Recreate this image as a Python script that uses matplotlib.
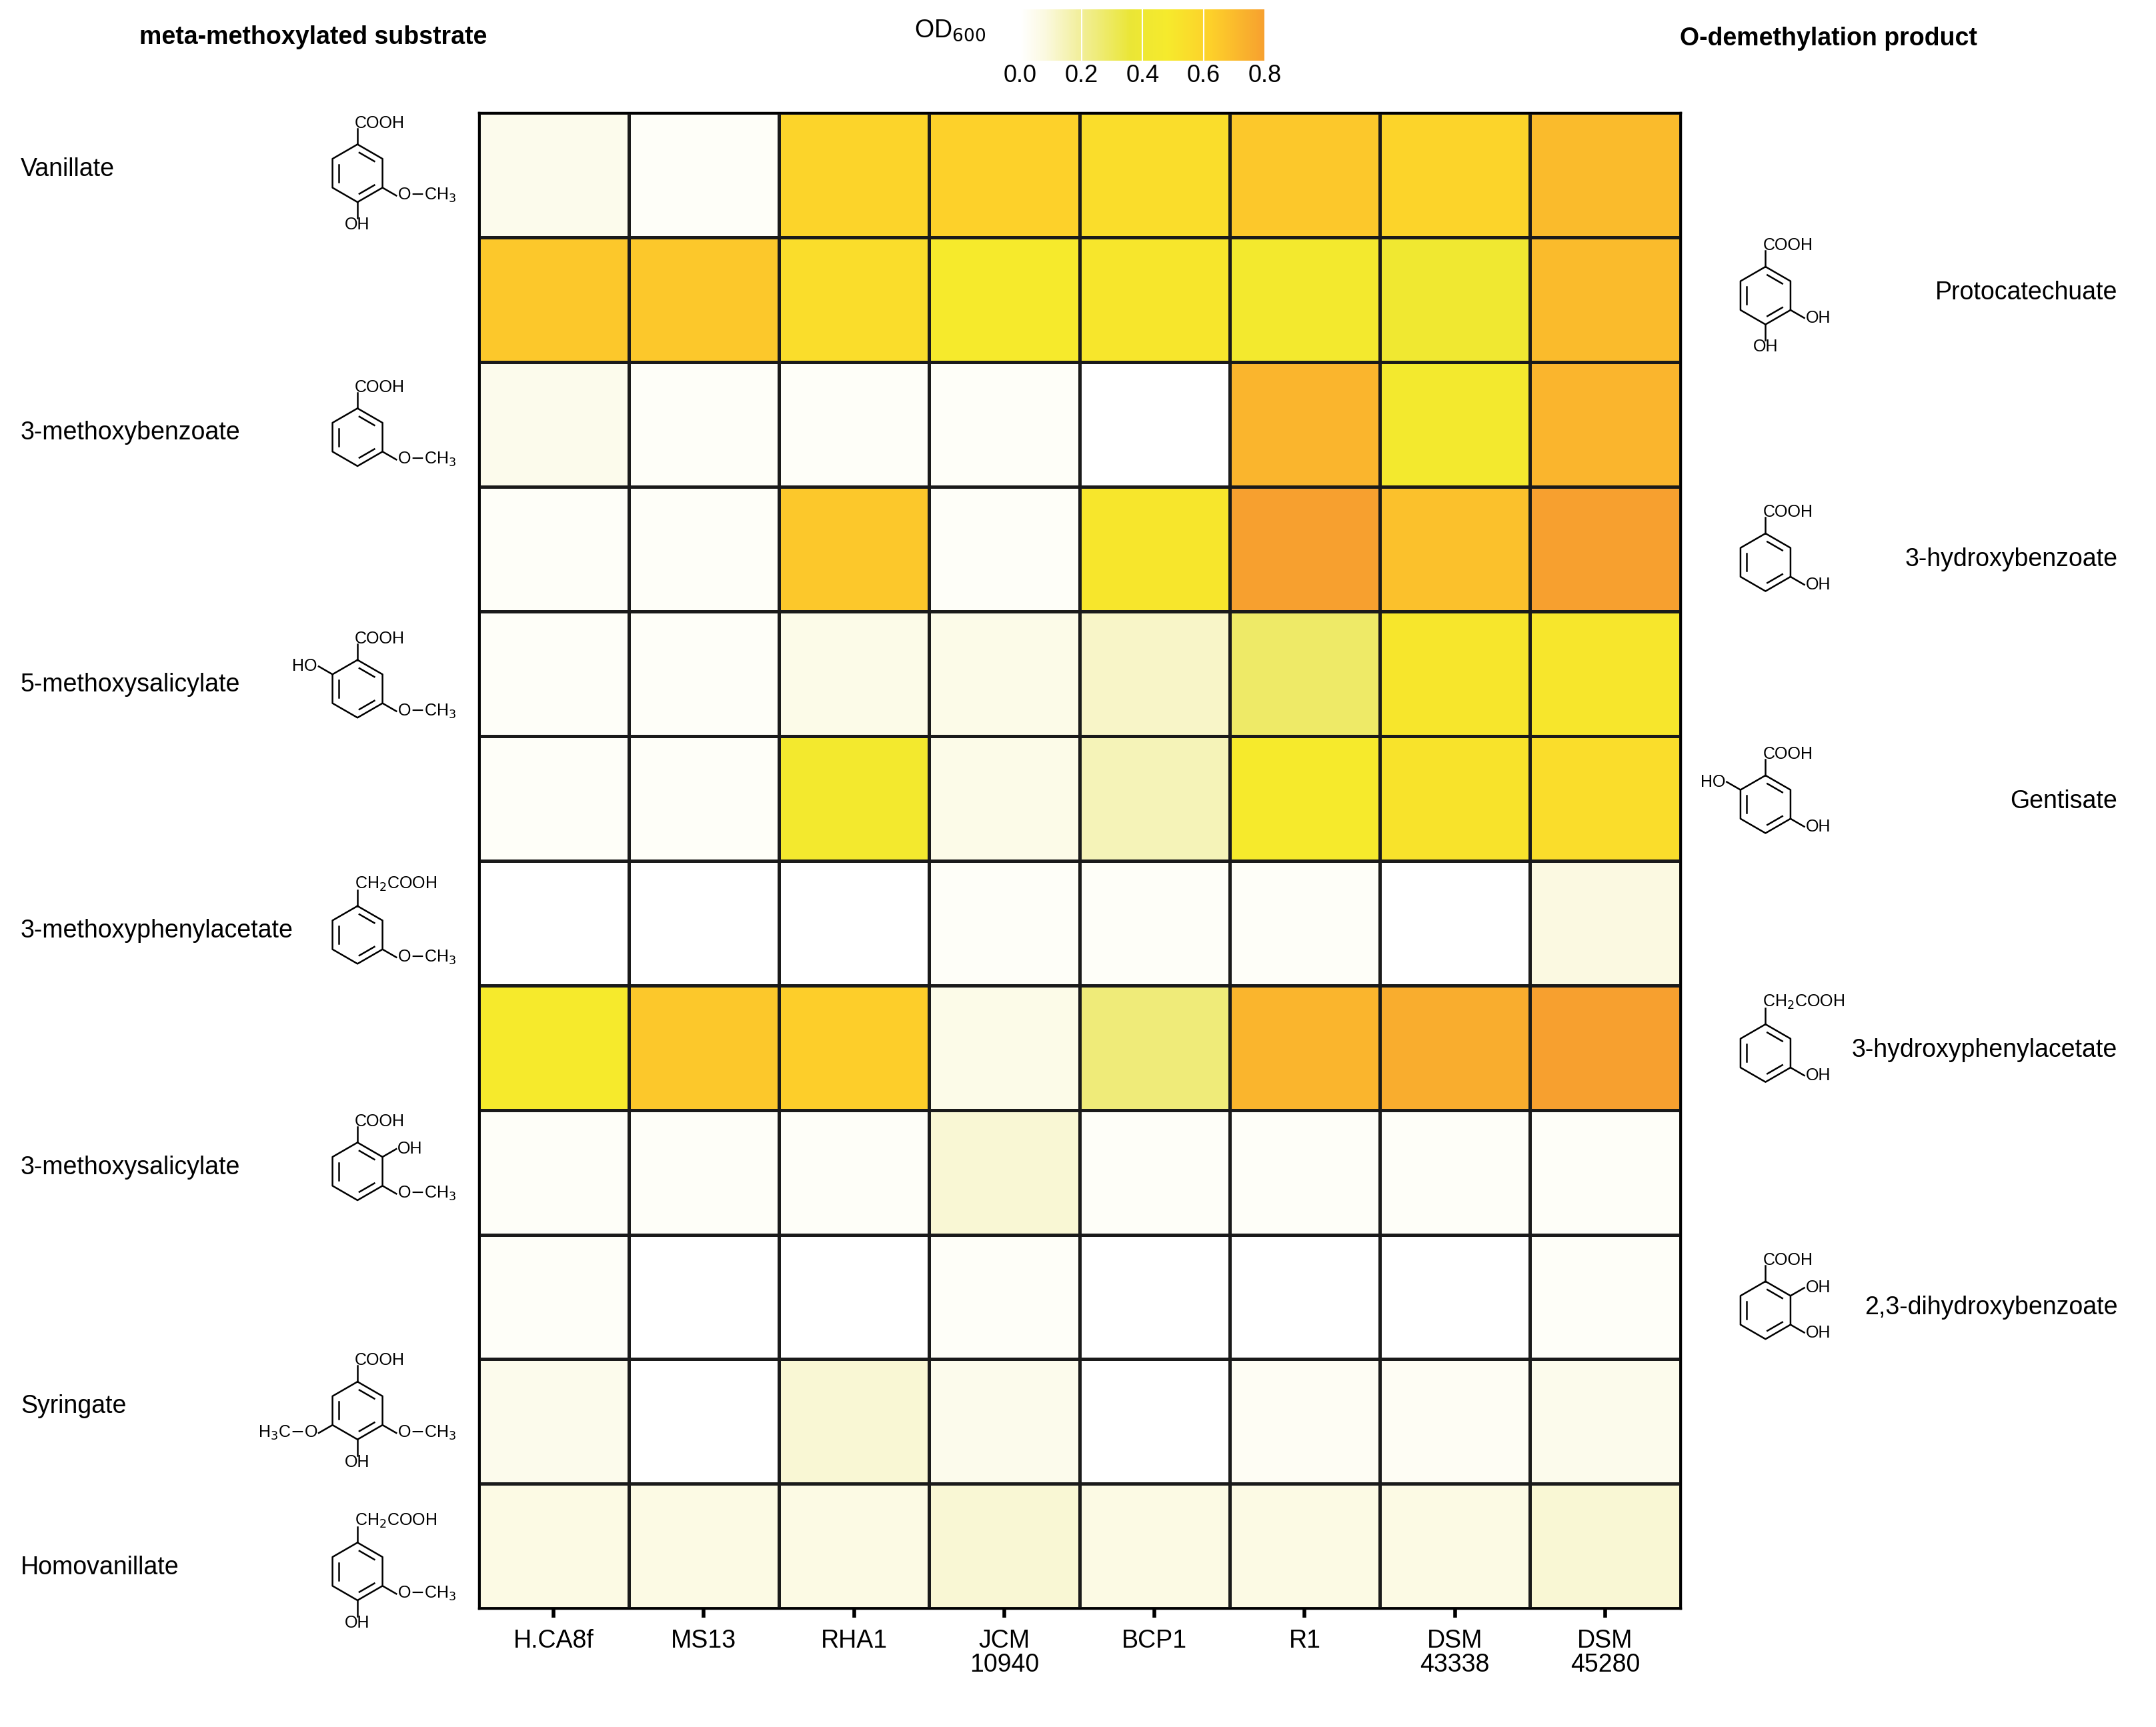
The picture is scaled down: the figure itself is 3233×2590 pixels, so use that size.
import numpy as np
import matplotlib
matplotlib.use("Agg")
import matplotlib.pyplot as plt
from matplotlib.colors import LinearSegmentedColormap

plt.rcParams['font.family'] = ['Liberation Sans', 'DejaVu Sans']

strains = ["H.CA8f", "MS13", "RHA1", "JCM\n10940", "BCP1", "R1", "DSM\n43338", "DSM\n45280"]

od600 = [
    [0.05, 0.02, 0.60, 0.62, 0.55, 0.65, 0.60, 0.70],
    [0.65, 0.65, 0.55, 0.48, 0.50, 0.45, 0.42, 0.70],
    [0.05, 0.02, 0.02, 0.02, 0.00, 0.72, 0.45, 0.72],
    [0.02, 0.02, 0.65, 0.02, 0.50, 0.80, 0.68, 0.82],
    [0.02, 0.02, 0.06, 0.06, 0.12, 0.28, 0.50, 0.50],
    [0.02, 0.02, 0.45, 0.06, 0.15, 0.48, 0.52, 0.55],
    [0.00, 0.00, 0.00, 0.02, 0.02, 0.02, 0.00, 0.08],
    [0.48, 0.65, 0.63, 0.06, 0.25, 0.72, 0.75, 0.82],
    [0.02, 0.02, 0.02, 0.10, 0.02, 0.02, 0.02, 0.02],
    [0.02, 0.00, 0.00, 0.02, 0.00, 0.00, 0.00, 0.02],
    [0.05, 0.00, 0.10, 0.05, 0.00, 0.03, 0.03, 0.05],
    [0.07, 0.07, 0.07, 0.10, 0.07, 0.07, 0.07, 0.10],
]

substrates = ["Vanillate", "3-methoxybenzoate", "5-methoxysalicylate",
              "3-methoxyphenylacetate", "3-methoxysalicylate", "Syringate", "Homovanillate"]
products = ["Protocatechuate", "3-hydroxybenzoate", "Gentisate",
            "3-hydroxyphenylacetate", "2,3-dihydroxybenzoate"]

# ring substituents: angle -> label (top is 90)
substrate_subs = [
    {90: "COOH", -30: "O$-$CH$_3$", -90: "OH"},
    {90: "COOH", -30: "O$-$CH$_3$"},
    {90: "COOH", 150: "HO", -30: "O$-$CH$_3$"},
    {90: "CH$_2$COOH", -30: "O$-$CH$_3$"},
    {90: "COOH", 30: "OH", -30: "O$-$CH$_3$"},
    {90: "COOH", -30: "O$-$CH$_3$", -150: "H$_3$C$-$O", -90: "OH"},
    {90: "CH$_2$COOH", -30: "O$-$CH$_3$", -90: "OH"},
]
product_subs = [
    {90: "COOH", -30: "OH", -90: "OH"},
    {90: "COOH", -30: "OH"},
    {90: "COOH", 150: "HO", -30: "OH"},
    {90: "CH$_2$COOH", -30: "OH"},
    {90: "COOH", 30: "OH", -30: "OH"},
]

cmap = LinearSegmentedColormap.from_list("od", [
    (0.0, "#ffffff"), (0.1, "#fbf9e0"), (0.25, "#f1ee98"), (0.45, "#eae636"),
    (0.6, "#f6ea2c"), (0.78, "#fdd02a"), (1.0, "#f7a02f")])

W, H = 3233, 2590
fig = plt.figure(figsize=(W / 100, H / 100), dpi=100)
RW = 1568.0          # reference width in the coordinates used below
RH = RW * H / W

L, R, T, B = 348 / RW, 1222 / RW, 1 - 82 / RH, 1 - 1170 / RH
ax = fig.add_axes([L, B, R - L, T - B])
data = np.array(od600)
ax.pcolormesh(data, cmap=cmap, vmin=0, vmax=0.8, edgecolors="#1a1a1a", linewidth=2.5)
ax.set_xlim(0, 8)
ax.set_ylim(12, 0)
ax.set_xticks(np.arange(8) + 0.5)
ax.set_xticklabels(strains, fontsize=27, linespacing=1.0)
ax.set_yticks([])
ax.tick_params(axis="x", length=10, width=4, pad=12)
for sp in ax.spines.values():
    sp.set_linewidth(2.5)

# colorbar
cax = fig.add_axes([742 / RW, 1 - 44 / RH, 178 / RW, 37 / RH])
cb = fig.colorbar(plt.cm.ScalarMappable(norm=plt.Normalize(0, 0.8), cmap=cmap),
                  cax=cax, orientation="horizontal")
cb.outline.set_visible(False)
cb.set_ticks([0, 0.2, 0.4, 0.6, 0.8])
cb.ax.tick_params(labelsize=26, length=0, pad=4)
for v in [0.2, 0.4, 0.6, 0.8]:
    cax.axvline(v, color="white", lw=1.5)
fig.text(665 / RW, 1 - 22 / RH, "OD$_{600}$", fontsize=27, ha="left", va="center")

fig.text(228 / RW, 1 - 27 / RH, "meta-methoxylated substrate", fontsize=27,
         ha="center", va="center", fontweight="bold")
fig.text(1330 / RW, 1 - 28 / RH, "O-demethylation product", fontsize=27,
         ha="center", va="center", fontweight="bold")

# overlay axes in reference coordinates
ov = fig.add_axes([0, 0, 1, 1])
ov.set_xlim(0, RW)
ov.set_ylim(RH, 0)
ov.axis("off")

sub_y = [123, 315, 498, 677, 849, 1023, 1140]
prod_y = [213, 407, 583, 764, 951]


def draw_ring(cx, cy, subs, r=21):
    angs = np.deg2rad(np.arange(90, 450, 60))
    xs = cx + r * np.cos(angs)
    ys = cy - r * np.sin(angs)
    ov.plot(np.append(xs, xs[0]), np.append(ys, ys[0]), color="black", lw=1.8)
    for k in (1, 3, 5):
        a1, a2 = angs[k], angs[(k + 1) % 6]
        p1 = np.array([cx + 0.75 * r * np.cos(a1), cy - 0.75 * r * np.sin(a1)])
        p2 = np.array([cx + 0.75 * r * np.cos(a2), cy - 0.75 * r * np.sin(a2)])
        m = (p1 + p2) / 2
        p1, p2 = m + (p1 - m) * 0.8, m + (p2 - m) * 0.8
        ov.plot([p1[0], p2[0]], [p1[1], p2[1]], color="black", lw=1.8)
    for ang, lab in subs.items():
        a = np.deg2rad(ang)
        x0, y0 = cx + r * np.cos(a), cy - r * np.sin(a)
        x1, y1 = cx + 1.55 * r * np.cos(a), cy - 1.55 * r * np.sin(a)
        ov.plot([x0, x1], [y0, y1], color="black", lw=1.8)
        if ang == 90:
            ha, va, tx, ty = "left", "bottom", x1 - 2, y1 + 2
        elif ang == -90:
            ha, va, tx, ty = "center", "top", x1, y1 - 1
        elif np.cos(a) > 0:
            ha, va, tx, ty = "left", "center", x1 + 1, y1
        else:
            ha, va, tx, ty = "right", "center", x1 - 1, y1
        ov.text(tx, ty, lab, fontsize=18, ha=ha, va=va)


for name, y, subs in zip(substrates, sub_y, substrate_subs):
    ov.text(15, y, name, fontsize=27, ha="left", va="center")
    draw_ring(260, y + 3, subs)

for name, y, subs in zip(products, prod_y, product_subs):
    ov.text(1540, y, name, fontsize=27, ha="right", va="center")
    draw_ring(1284, y + 2, subs)

fig.savefig("out.png", dpi=100)
